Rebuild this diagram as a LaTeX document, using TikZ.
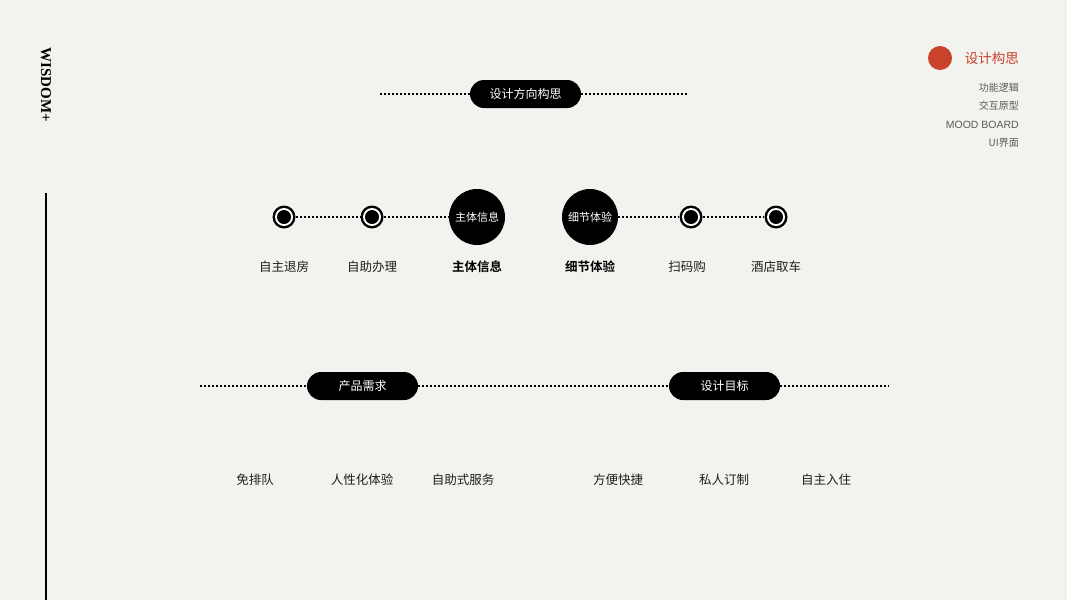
\documentclass[tikz,border=0pt]{standalone}
\usepackage{fontspec}
\setmainfont{Liberation Serif}
\newfontfamily\cjk{Noto Sans CJK SC}
\newfontfamily\cjkb{Noto Sans CJK SC}[BoldFont={* Bold}]
\newfontfamily\lsans{Liberation Sans}
\definecolor{bg}{RGB}{242,242,238}
\definecolor{accent}{RGB}{200,67,42}
\definecolor{greytext}{RGB}{90,90,90}
\definecolor{labeltext}{RGB}{30,30,30}
\begin{document}
\begin{tikzpicture}[x=1pt,y=-1pt,
  dotline/.style={line width=2.4pt, dash pattern=on 2pt off 2pt, black},
  pill/.style={fill=black, rounded corners=14pt, minimum width=111pt, minimum height=28pt, inner sep=0pt, text=white, font=\cjk\fontsize{12}{14}\selectfont},
  bigdot/.style={circle, fill=black, minimum size=56pt, inner sep=0pt, text=white, font=\cjk\fontsize{11}{13}\selectfont},
  ringdot/.style={circle, fill=black, minimum size=23pt, inner sep=0pt, path picture={\fill[white] (path picture bounding box.center) circle (9pt); \fill[black] (path picture bounding box.center) circle (7pt);}},
  lbl/.style={text=labeltext, font=\cjk\fontsize{12.5}{14}\selectfont, inner sep=0pt},
  lblb/.style={text=black, font=\cjkb\bfseries\fontsize{12.5}{14}\selectfont, inner sep=0pt},
  menu/.style={text=greytext, font=\cjk\fontsize{10}{12}\selectfont, anchor=east, inner sep=0pt},
]
\fill[bg] (0,0) rectangle (1067,600);
\useasboundingbox (0,0) rectangle (1067,600);

% left brand
\node[rotate=-90, font=\bfseries\fontsize{15}{17}\selectfont, inner sep=0pt] (brand) at (46,85) {WISDOM+};
\coordinate (vtop) at (46,193);
\coordinate (vbot) at (46,600);
\draw[line width=1.5pt, black] (vtop) -- (vbot);

% top-right menu
\node[circle, fill=accent, minimum size=24pt, inner sep=0pt] (reddot) at (940,58) {};
\node[text=accent, font=\cjk\fontsize{13.5}{15}\selectfont, anchor=east, inner sep=0pt] (m0) at (1019,58) {设计构思};
\node[menu] (m1) at (1019,88) {功能逻辑};
\node[menu] (m2) at (1019,106) {交互原型};
\node[menu, font=\lsans\fontsize{10.5}{12}\selectfont] (m3) at (1019,125) {MOOD BOARD};
\node[menu] (m4) at (1019,143) {UI界面};

% top pill
\coordinate (t1) at (380,94);
\coordinate (t2) at (689,94);
\node[pill] (top) at (525.5,94) {设计方向构思};
\draw[dotline] (t1) -- (top.west);
\draw[dotline] (top.east) -- (t2);

% row 2
\node[ringdot] (a1) at (284,217) {};
\node[ringdot] (a2) at (372,217) {};
\node[bigdot] (a3) at (477,217) {主体信息};
\node[bigdot] (a4) at (590,217) {细节体验};
\node[ringdot] (a5) at (691,217) {};
\node[ringdot] (a6) at (776,217) {};
\draw[dotline] (a1.east) -- (a2.west);
\draw[dotline] (a2.east) -- (a3.west);
\draw[dotline] (a4.east) -- (a5.west);
\draw[dotline] (a5.east) -- (a6.west);

\node[lbl] (l1) at (284,267) {自主退房};
\node[lbl] (l2) at (372,267) {自助办理};
\node[lblb] (l3) at (477,267) {主体信息};
\node[lblb] (l4) at (590,267) {细节体验};
\node[lbl] (l5) at (687,267) {扫码购};
\node[lbl] (l6) at (776,267) {酒店取车};

% row 3
\coordinate (b0) at (200,386);
\coordinate (b9) at (889,386);
\node[pill] (p1) at (362.5,386) {产品需求};
\node[pill] (p2) at (724.5,386) {设计目标};
\draw[dotline] (b0) -- (p1.west);
\draw[dotline] (p1.east) -- (p2.west);
\draw[dotline] (p2.east) -- (b9);

\node[lbl] (c1) at (255,480) {免排队};
\node[lbl] (c2) at (362,480) {人性化体验};
\node[lbl] (c3) at (463,480) {自助式服务};
\node[lbl] (c4) at (618,480) {方便快捷};
\node[lbl] (c5) at (724,480) {私人订制};
\node[lbl] (c6) at (826,480) {自主入住};
\end{tikzpicture}
\end{document}
